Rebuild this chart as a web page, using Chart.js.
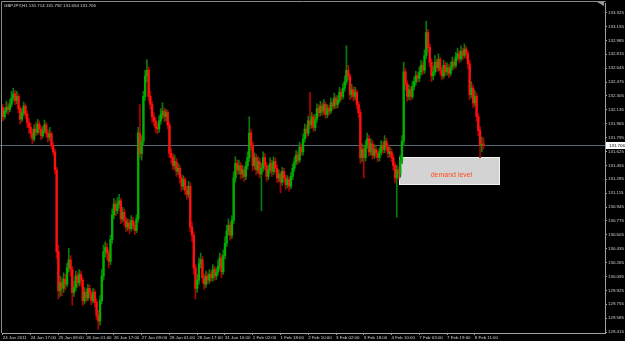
<!DOCTYPE html>
<html>
<head>
<meta charset="utf-8">
<script src="https://cdn.jsdelivr.net/npm/chart.js@4.4.1/dist/chart.umd.min.js"></script>
<style>
  html, body { margin: 0; padding: 0; background: #000; }
  #wrap { width: 625px; height: 341px; }
</style>
</head>
<body>
<div id="wrap"><canvas id="candleChart" width="625" height="341"></canvas></div>
<script>
// GBPJPY H1 candles (open of each bar = close of the previous one)
const symbolTitle = "GBPJPY,H1 131.714 131.792 131.654 131.706";
const firstOpen = 132.16;

const closes = [
  132.05, 132.12, 132.17, 132.14, 132.20, 132.28, 132.33, 132.25, 132.30, 132.15,
  132.02, 132.10, 132.18, 132.08, 131.98, 131.92, 131.85, 131.78, 131.90, 131.86,
  131.96, 131.90, 131.82, 131.88, 131.95, 131.85, 131.80, 131.84, 131.70, 131.62,
  131.40, 130.40, 129.92, 130.02, 129.95, 130.06, 130.00, 130.20, 130.30, 130.18,
  129.90, 129.96, 130.10, 130.02, 130.12, 130.05, 129.80, 129.90, 129.83, 129.95,
  129.88, 129.80, 129.90, 129.78, 129.62, 129.55, 129.80, 130.10, 130.40, 130.45,
  130.38, 130.28, 130.55, 130.85, 130.98, 130.90, 130.98, 131.02, 130.80, 130.88,
  130.78, 130.70, 130.75, 130.68, 130.78, 130.72, 130.66, 130.80, 131.85, 131.60,
  131.75, 132.30, 132.55, 132.62, 132.30, 132.20, 132.05, 132.00, 131.92, 131.90,
  132.00, 132.08, 132.12, 132.05, 132.10, 131.95, 131.60, 131.55, 131.45, 131.50,
  131.38, 131.42, 131.30, 131.20, 131.28, 131.15, 131.10, 131.20, 130.70, 130.60,
  130.20, 129.95, 130.05, 130.25, 130.30, 130.08, 130.00, 130.10, 130.05, 130.12,
  130.08, 130.18, 130.10, 130.15, 130.22, 130.32, 130.15, 130.35, 130.50, 130.65,
  130.72, 130.60, 130.78, 131.30, 131.48, 131.40, 131.45, 131.35, 131.40, 131.32,
  131.45, 131.55, 131.85, 131.70, 131.45, 131.55, 131.40, 131.50, 131.35, 131.42,
  131.55, 131.45, 131.32, 131.40, 131.48, 131.38, 131.50, 131.42, 131.30, 131.35,
  131.25, 131.38, 131.30, 131.22, 131.28, 131.20, 131.32, 131.42, 131.50, 131.58,
  131.52, 131.68, 131.62, 131.78, 131.90, 131.85, 132.00, 131.95, 132.05, 131.92,
  132.02, 132.15, 132.10, 132.18, 132.12, 132.20, 132.08, 132.15, 132.12, 132.22,
  132.18, 132.28, 132.20, 132.25, 132.35, 132.30, 132.40, 132.48, 132.62, 132.55,
  132.32, 132.38, 132.30, 132.35, 132.20, 132.10, 131.55, 131.65, 131.55, 131.70,
  131.78, 131.62, 131.72, 131.58, 131.65, 131.60, 131.55, 131.62, 131.70, 131.65,
  131.75, 131.68, 131.60, 131.62, 131.55, 131.45, 131.30, 131.40, 131.35, 131.52,
  131.75, 132.60, 132.45, 132.30, 132.38, 132.30, 132.42, 132.48, 132.55, 132.52,
  132.60, 132.68, 132.62, 132.80, 133.08, 132.90, 132.72, 132.55, 132.60, 132.72,
  132.65, 132.75, 132.62, 132.55, 132.68, 132.60, 132.65, 132.58, 132.66, 132.72,
  132.68, 132.78, 132.82, 132.76, 132.85, 132.80, 132.88, 132.82, 132.70, 132.32,
  132.40, 132.22, 132.30, 132.05, 131.88, 131.70, 131.714, 131.706
];

const highs = [
  132.20, 132.16, 132.24, 132.22, 132.26, 132.36, 132.40, 132.37, 132.36, 132.33,
  132.18, 132.15, 132.23, 132.21, 132.12, 132.03, 131.97, 131.90, 131.95, 131.98,
  132.02, 132.00, 131.94, 131.93, 132.01, 131.98, 131.89, 131.92, 131.87, 131.74,
  131.65, 131.43, 130.48, 130.10, 130.08, 130.14, 130.12, 130.26, 130.44, 130.35,
  130.22, 130.04, 130.16, 130.14, 130.18, 130.16, 130.08, 129.96, 129.94, 130.00,
  129.99, 129.92, 129.95, 129.93, 129.82, 129.68, 129.86, 130.18, 130.48, 130.52,
  130.50, 130.42, 130.60, 130.92, 131.05, 131.02, 131.06, 131.10, 131.05, 130.94,
  130.92, 130.82, 130.80, 130.79, 130.84, 130.82, 130.76, 130.85, 131.92, 132.20,
  131.82, 132.36, 132.62, 132.75, 132.66, 132.36, 132.24, 132.10, 132.04, 131.97,
  132.06, 132.15, 132.22, 132.16, 132.14, 132.13, 131.98, 131.66, 131.60, 131.58,
  131.54, 131.48, 131.46, 131.34, 131.33, 131.31, 131.20, 131.26, 131.24, 130.76,
  130.64, 130.24, 130.12, 130.32, 130.38, 130.34, 130.12, 130.16, 130.14, 130.18,
  130.16, 130.24, 130.22, 130.20, 130.30, 130.38, 130.36, 130.42, 130.58, 130.72,
  130.80, 130.76, 130.84, 131.38, 131.56, 131.52, 131.52, 131.49, 131.46, 131.44,
  131.50, 131.62, 132.05, 131.90, 131.74, 131.61, 131.59, 131.56, 131.54, 131.48,
  131.62, 131.60, 131.49, 131.46, 131.55, 131.52, 131.56, 131.54, 131.46, 131.40,
  131.38, 131.43, 131.42, 131.34, 131.33, 131.31, 131.37, 131.47, 131.56, 131.64,
  131.62, 131.74, 131.72, 131.84, 131.96, 131.95, 132.06, 132.35, 132.10, 132.08,
  132.08, 132.21, 132.20, 132.24, 132.22, 132.26, 132.23, 132.20, 132.19, 132.28,
  132.26, 132.34, 132.31, 132.31, 132.41, 132.39, 132.46, 132.55, 132.92, 132.68,
  132.58, 132.45, 132.42, 132.41, 132.38, 132.24, 132.14, 131.72, 131.69, 131.76,
  131.85, 131.82, 131.78, 131.76, 131.71, 131.69, 131.64, 131.67, 131.76, 131.74,
  131.82, 131.79, 131.72, 131.68, 131.66, 131.59, 131.49, 131.46, 131.44, 131.58,
  131.82, 132.72, 132.64, 132.49, 132.44, 132.42, 132.48, 132.54, 132.61, 132.59,
  132.66, 132.74, 132.72, 132.87, 133.22, 133.12, 132.94, 132.76, 132.67, 132.80,
  132.76, 132.82, 132.78, 132.66, 132.74, 132.72, 132.71, 132.69, 132.72, 132.78,
  132.76, 132.84, 132.89, 132.86, 132.92, 132.89, 132.94, 132.91, 132.85, 132.74,
  132.48, 132.44, 132.37, 132.34, 132.09, 131.93, 131.80, 131.792
];

const lows = [
  132.00, 132.02, 132.09, 132.08, 132.11, 132.17, 132.24, 132.20, 132.21, 132.10,
  131.96, 131.99, 132.06, 132.03, 131.92, 131.85, 131.80, 131.72, 131.75, 131.82,
  131.83, 131.85, 131.77, 131.79, 131.85, 131.80, 131.74, 131.76, 131.66, 131.58,
  131.35, 130.32, 129.82, 129.85, 129.86, 129.90, 129.93, 129.97, 130.15, 130.10,
  129.74, 129.85, 129.92, 129.96, 129.98, 129.98, 129.74, 129.76, 129.78, 129.80,
  129.83, 129.75, 129.77, 129.72, 129.57, 129.45, 129.50, 129.76, 130.05, 130.33,
  130.30, 130.20, 130.24, 130.50, 130.80, 130.84, 130.86, 130.93, 130.74, 130.76,
  130.72, 130.64, 130.66, 130.62, 130.65, 130.67, 130.61, 130.63, 130.76, 131.55,
  131.52, 131.70, 132.25, 132.48, 132.24, 132.14, 131.98, 131.94, 131.86, 131.84,
  131.86, 131.96, 132.03, 131.99, 132.00, 131.90, 131.55, 131.48, 131.40, 131.41,
  131.32, 131.34, 131.24, 131.14, 131.16, 131.10, 131.04, 131.06, 130.64, 130.52,
  130.12, 129.82, 129.90, 130.00, 130.20, 130.02, 129.94, 129.96, 130.00, 130.01,
  130.03, 130.04, 130.05, 130.06, 130.11, 130.18, 130.08, 130.12, 130.31, 130.46,
  130.60, 130.54, 130.56, 130.74, 131.25, 131.34, 131.35, 131.29, 131.30, 131.26,
  131.28, 131.41, 131.50, 131.64, 131.39, 131.41, 131.34, 131.36, 131.30, 130.90,
  131.38, 131.40, 131.26, 131.28, 131.36, 131.32, 131.34, 131.37, 131.24, 131.26,
  131.12, 131.21, 131.25, 131.16, 131.18, 131.14, 131.17, 131.28, 131.38, 131.46,
  131.47, 131.49, 131.57, 131.58, 131.74, 131.80, 131.82, 131.90, 131.91, 131.87,
  131.88, 131.98, 132.05, 132.06, 132.07, 132.08, 132.03, 132.04, 132.07, 132.09,
  132.13, 132.15, 132.15, 132.16, 132.22, 132.25, 132.27, 132.36, 132.44, 132.50,
  132.26, 132.28, 132.24, 132.26, 132.15, 132.04, 131.48, 131.50, 131.30, 131.51,
  131.66, 131.57, 131.58, 131.53, 131.54, 131.55, 131.50, 131.51, 131.58, 131.60,
  131.61, 131.63, 131.55, 131.56, 131.50, 131.40, 131.24, 130.82, 131.28, 131.31,
  131.48, 131.70, 132.38, 132.24, 132.26, 132.25, 132.27, 132.38, 132.44, 132.47,
  132.48, 132.56, 132.57, 132.58, 132.76, 132.84, 132.66, 132.48, 132.50, 132.56,
  132.60, 132.61, 132.57, 132.50, 132.52, 132.55, 132.56, 132.53, 132.55, 132.62,
  132.63, 132.65, 132.74, 132.71, 132.73, 132.75, 132.77, 132.76, 132.64, 132.26,
  132.28, 132.16, 132.18, 131.99, 131.82, 131.55, 131.62, 131.654
];

const priceTicks = [
  133.325, 133.155, 132.985, 132.815, 132.645, 132.475, 132.305, 132.135,
  131.965, 131.795, 131.625, 131.455, 131.285, 131.115, 130.945, 130.775,
  130.605, 130.435, 130.265, 130.095, 129.925, 129.755, 129.585, 129.415
];

const timeLabels = [
  "24 Jan 2011", "24 Jan 17:00", "25 Jan 09:00", "26 Jan 01:00", "26 Jan 17:00",
  "27 Jan 09:00", "28 Jan 01:00", "28 Jan 17:00", "31 Jan 10:00", "1 Feb 02:00",
  "1 Feb 18:00", "2 Feb 10:00", "3 Feb 02:00", "3 Feb 18:00", "4 Feb 10:00",
  "7 Feb 03:00", "7 Feb 19:00", "8 Feb 11:00"
];
const barsPerLabel = 16;

const lastPrice = 131.706;
const demandLabel = "demand level";
const demandBars = [228.2, 286];
const demandPrices = [131.223, 131.553];

const opens = closes.map((c, i) => i === 0 ? firstOpen : closes[i - 1]);
const isUp = i => closes[i] >= opens[i];

const bodyData = closes.map((c, i) => ({ x: i, y: [opens[i], c] }));
const wickData = closes.map((c, i) => ({ x: i, y: [lows[i], highs[i]] }));

const axisFont = { family: "'Liberation Sans', Arial, sans-serif", size: 4.4 };

const mt4Overlay = {
    id: 'mt4Overlay',
    beforeDatasetsDraw(chart) {
        const { ctx, chartArea: a, scales: { x, y } } = chart;
        ctx.save();

        // demand zone rectangle (background object)
        const x1 = Math.round(x.getPixelForValue(demandBars[0])) + 0.5;
        const x2 = Math.round(x.getPixelForValue(demandBars[1])) + 0.5;
        const y1 = Math.round(y.getPixelForValue(demandPrices[1])) + 0.5;
        const y2 = Math.round(y.getPixelForValue(demandPrices[0])) + 0.5;
        ctx.fillStyle = '#d3d3d3';
        ctx.fillRect(x1, y1, x2 - x1, y2 - y1);
        ctx.strokeStyle = '#f2f2f2';
        ctx.lineWidth = 1;
        ctx.strokeRect(x1, y1, x2 - x1, y2 - y1);
        ctx.fillStyle = '#ff4d1f';
        ctx.font = "7px 'Liberation Sans', Arial, sans-serif";
        ctx.textAlign = 'center';
        ctx.textBaseline = 'middle';
        ctx.fillText(demandLabel, (x1 + x2) / 2 + 2, (y1 + y2) / 2 + 4);

        // bid line
        const py = Math.round(y.getPixelForValue(lastPrice)) + 0.5;
        ctx.strokeStyle = '#56677a';
        ctx.beginPath();
        ctx.moveTo(0, py);
        ctx.lineTo(a.right, py);
        ctx.stroke();
        ctx.restore();
    },
    afterDraw(chart) {
        const { ctx, chartArea: a, scales: { y } } = chart;
        ctx.save();

        // window frame
        ctx.strokeStyle = '#8a8a8a';
        ctx.lineWidth = 1;
        ctx.beginPath();
        ctx.moveTo(1.5, a.bottom);
        ctx.lineTo(1.5, 1.5);
        ctx.lineTo(a.right + 0.5, 1.5);
        ctx.stroke();

        // chart shift marker
        ctx.fillStyle = '#9a9a9a';
        ctx.beginPath();
        ctx.moveTo(597, 2);
        ctx.lineTo(604, 2);
        ctx.lineTo(604, 6);
        ctx.closePath();
        ctx.fill();

        // symbol / OHLC header
        ctx.fillStyle = '#d8d8d8';
        ctx.font = "4.4px 'Liberation Sans', Arial, sans-serif";
        ctx.textAlign = 'left';
        ctx.textBaseline = 'middle';
        ctx.fillText(symbolTitle, 4, 6);

        // current price tag on the axis
        const py = Math.round(y.getPixelForValue(lastPrice));
        ctx.fillStyle = '#ffffff';
        ctx.fillRect(a.right + 1, py - 3, 20, 7);
        ctx.fillStyle = '#000000';
        ctx.fillText(lastPrice.toFixed(3), a.right + 4, py + 0.5);
        ctx.restore();
    }
};

const ctx = document.getElementById('candleChart');
new Chart(ctx, {
    type: 'bar',
    data: {
        datasets: [{
            label: 'wick',
            data: wickData,
            backgroundColor: c => isUp(c.dataIndex) ? '#0a7a0a' : '#b40000',
            barThickness: 1,
            grouped: false,
            order: 2
        }, {
            label: 'body',
            data: bodyData,
            backgroundColor: c => isUp(c.dataIndex) ? '#00b000' : '#ff1010',
            barThickness: 1.7,
            minBarLength: 1,
            grouped: false,
            order: 1
        }]
    },
    options: {
        responsive: false,
        animation: false,
        layout: { padding: { left: 2, top: 3, right: 0, bottom: 0 } },
        plugins: {
            legend: { display: false },
            tooltip: { enabled: false }
        },
        scales: {
            x: {
                type: 'linear',
                offset: false,
                min: -0.5,
                max: 347,
                afterBuildTicks: s => {
                    s.ticks = timeLabels.map((t, k) => ({ value: k * barsPerLabel }));
                },
                afterFit: s => { s.height = 8; },
                ticks: {
                    autoSkip: false,
                    maxRotation: 0,
                    align: 'start',
                    padding: 0,
                    color: '#d0d0d0',
                    font: axisFont,
                    callback: v => timeLabels[Math.round(v / barsPerLabel)]
                },
                grid: { offset: false, drawOnChartArea: false, drawTicks: true, tickLength: 2, color: '#a0a0a0' },
                border: { color: '#a0a0a0' }
            },
            y: {
                position: 'right',
                min: 129.403,
                max: 133.435,
                afterBuildTicks: s => {
                    s.ticks = priceTicks.map(v => ({ value: v }));
                },
                afterFit: s => { s.width = 20; },
                ticks: {
                    padding: 1,
                    color: '#d0d0d0',
                    font: axisFont,
                    callback: v => v.toFixed(3)
                },
                grid: { drawOnChartArea: false, drawTicks: true, tickLength: 2, color: '#a0a0a0' },
                border: { color: '#a0a0a0' }
            }
        }
    },
    plugins: [mt4Overlay]
});
</script>
</body>
</html>
